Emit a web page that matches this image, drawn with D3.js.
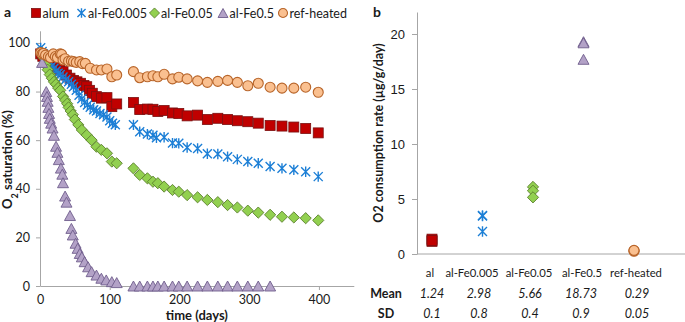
<!DOCTYPE html>
<html><head><meta charset="utf-8">
<script src="https://cdn.jsdelivr.net/npm/d3@7"></script>
<style>
html,body{margin:0;padding:0;background:#fff;}
svg{display:block;font-family:Lato,"Open Sans",sans-serif;}
</style></head>
<body>
<svg id="chart" width="685" height="322"></svg>
<script>
// ---------- DATA (panel a: [time in days, O2 saturation %]) ----------
const alum = [[1,95.5],[4,94.5],[8,93.5],[12,92.3],[16,91.5],[20,91],[24,90.2],[28,89],[33,88.2],[38,86.8],[43,85.5],[48,84.6],[53,84],[58,83.4],[63,82.5],[67,82],[71,80.5],[75,79.3],[81,77.9],[88,77.3],[96,77.5],[103,73.8],[110,74.9],
  [134,75.5],[143,72.6],[154,72.8],[162,72.7],[169,71.8],[178,72.2],[190,71.2],[199,71],[211,70],[226,70.3],[240,68.5],[255,69],[269,68.5],[283,68],[298,67.6],[313,67],[330,66],[347,65.8],[364,65.4],[381,64.8],[399,63]];
const alFe0005 = [[1,98],[3,96.5],[5,95.5],[8,94],[11,93],[14,91.5],[17,90.5],[20,89.6],[23,88.5],[26,87.5],[29,87],[33,86],[37,85],[41,84],[45,83],[48,82],[52,80.5],[56,78.5],[60,77],[64,75.5],[68,74.5],[72,73.5],[77,72.5],[81,72],[86,71],[91,70.5],[96,69.5],[100,68],[104,67],[108,66.3],
  [134,66.3],[143,63.5],[154,62.5],[162,62],[167,61],[178,61.2],[190,58.8],[199,58.7],[211,57],[226,56.6],[240,54.4],[255,54.3],[269,53.2],[283,52.1],[298,51.2],[313,50.5],[330,49.2],[347,48.4],[364,47.8],[381,47],[399,45]];
const alFe005 = [[2,96],[5,94],[8,91],[11,89],[14,87],[17,85.5],[20,84],[23,83],[26,81.5],[29,80.5],[33,78],[36,76.5],[39,75],[41,73.5],[44,72],[47,70.5],[50,68.5],[55,66.3],[60,64.2],[67,62.1],[74,60],[81,57.3],[88,56],[96,54.6],[103,51.2],[110,50.5],
  [134,48.4],[143,45.7],[154,44.3],[162,42.9],[169,42.3],[178,40.9],[190,39.5],[199,38.8],[211,37.4],[226,36.5],[240,35.4],[255,34.5],[269,33.3],[283,32.3],[298,31],[313,30.2],[330,29.3],[347,28.5],[364,28.2],[381,27.9],[399,27]];
const alFe05 = [[3,92],[9,80],[10,78],[11,76],[12,73.5],[13,71],[14,69],[16,67],[18,65],[20,62],[23,57.5],[25,55],[27,52],[30,48.5],[32,46],[33,42.5],[36,37],[38,34.5],[43,29],[45,23.7],[47,21],[51,17.6],[54,15.5],[57,13.4],[60,12],[64,10],[69,7.9],[74,5.9],[81,4.5],[88,3.2],[95,2.5],[103,1.8],[110,1.4],
  [134,0],[143,0],[154,0],[162,0],[169,0],[178,0],[190,0],[199,0],[211,0],[226,0],[240,0],[255,0],[269,0],[283,0],[298,0],[313,0],[330,0]];
const refHeated = [[1,96],[3,95.5],[5,95.7],[8,95],[12,94.4],[15,94],[19,95.5],[22,94.4],[25,94],[29,95.5],[31,95.3],[33,93],[36,93.5],[41,92.5],[45,92.6],[48,92.3],[52,92],[57,92.3],[61,91.5],[65,91.6],[72,89.6],[81,88.9],[88,88.9],[96,89.3],[103,86.1],[110,86.8],
  [134,88.2],[143,85.7],[154,86.1],[162,86.5],[169,86.1],[178,87.1],[190,85.2],[199,85.9],[211,85.2],[226,84.4],[240,83.8],[255,84.2],[269,84.6],[283,83.8],[298,82.4],[313,83.4],[330,81.8],[347,81.4],[364,81.4],[381,81.8],[399,79.7]];
const seriesNames = ["alum","al-Fe0.005","al-Fe0.05","al-Fe0.5","ref-heated"];
const xTicksA = [0,100,200,300,400];
const yTicksA = [0,20,40,60,80,100];

// ---------- DATA (panel b) ----------
const categoriesB = ["al","al-Fe0.005","al-Fe0.05","al-Fe0.5","ref-heated"];
const ratesB = [[1.15,1.35,1.22],[3.45,3.5,2.05],[6.1,5.75,5.15],[19.3,17.7,19.2],[0.25,0.3,0.33]];
const meanLabels = ["1.24","2.98","5.66","18.73","0.29"];
const sdLabels = ["0.1","0.8","0.4","0.9","0.05"];
const yTicksB = [0,5,10,15,20];

// ---------- STYLE / LAYOUT ----------
const styles = [
  {shape:"square",  fill:"#C00000", stroke:"#7A1010"},
  {shape:"asterisk",fill:"none",    stroke:"#1C7FD6"},
  {shape:"diamond", fill:"#92D050", stroke:"#5B7F2E"},
  {shape:"triangle",fill:"#B3A2C7", stroke:"#6F5E8C"},
  {shape:"circle",  fill:"#FAC090", stroke:"#B8652A"}
];
const axisColor = "#A6A6A6";
const textColor = "#1a1a1a";
const legendX = [36, 81.5, 154.5, 223, 283];

function drawMarker(g, st, size){
  const s = size;
  if(st.shape==="square"){
    g.append("rect").attr("x",-s/2).attr("y",-s/2).attr("width",s).attr("height",s)
      .attr("fill",st.fill).attr("stroke",st.stroke).attr("stroke-width",0.8);
  } else if(st.shape==="diamond"){
    const h = s*0.56;
    g.append("path").attr("d",`M0,${-h}L${h},0L0,${h}L${-h},0Z`)
      .attr("fill",st.fill).attr("stroke",st.stroke).attr("stroke-width",0.9);
  } else if(st.shape==="triangle"){
    const w = s*0.55, hh = s*0.5;
    g.append("path").attr("d",`M0,${-hh}L${w},${hh}L${-w},${hh}Z`)
      .attr("fill",st.fill).attr("stroke",st.stroke).attr("stroke-width",0.9);
  } else if(st.shape==="circle"){
    g.append("circle").attr("r",s/2).attr("fill",st.fill).attr("stroke",st.stroke).attr("stroke-width",1.1);
  } else {
    const a = s*0.45;
    g.append("path").attr("d",`M${-a},${-a}L${a},${a}M${-a},${a}L${a},${-a}M0,${-a*1.15}L0,${a*1.15}`)
      .attr("fill","none").attr("stroke",st.stroke).attr("stroke-width",1.4);
  }
}

const svg = d3.select("#chart");

// ================= PANEL A =================
const xA = d3.scaleLinear().domain([0,450]).range([40,353.8]);
const yA = d3.scaleLinear().domain([0,105]).range([286,30.8]);

const gA = svg.append("g");
const yAxA = gA.append("g").attr("transform",`translate(${xA(0)},0)`)
  .call(d3.axisLeft(yA).tickValues(yTicksA).tickSize(4).tickSizeOuter(0).tickPadding(6));
const xAxA = gA.append("g").attr("transform",`translate(0,${yA(0)})`)
  .call(d3.axisBottom(xA).tickValues(xTicksA).tickSize(4).tickSizeOuter(0).tickPadding(5));
[yAxA,xAxA].forEach(ax=>{
  ax.select(".domain").attr("stroke",axisColor);
  ax.selectAll(".tick line").attr("stroke",axisColor);
  ax.selectAll(".tick text").attr("fill",textColor).style("font-size","12.5px").style("font-family","Lato");
});
xAxA.selectAll(".tick").filter(d=>d===0).select("line").remove();

const allSeries = [alum, alFe0005, alFe005, alFe05, refHeated];
allSeries.forEach((ser,i)=>{
  const g = gA.append("g");
  ser.forEach(d=>{
    const m = g.append("g").attr("transform",`translate(${xA(d[0])},${yA(d[1])})`);
    drawMarker(m, styles[i], 10);
  });
});

// axis titles
const yt = gA.append("text").attr("transform",`translate(12,${yA(52)}) rotate(-90)`)
  .attr("text-anchor","middle").attr("fill",textColor)
  .style("font-size","13px").style("font-weight","bold");
yt.append("tspan").text("O");
yt.append("tspan").text("2").attr("baseline-shift","sub").style("font-size","9px");
yt.append("tspan").text(" saturation (%)");
gA.append("text").attr("x",xA(225)).attr("y",320).attr("text-anchor","middle")
  .attr("fill",textColor).style("font-size","13px").style("font-weight","bold").text("time (days)");

// panel letter & legend
svg.append("text").attr("x",4).attr("y",17).style("font-size","14px").style("font-weight","bold").attr("fill",textColor).text("a");
seriesNames.forEach((n,i)=>{
  const m = svg.append("g").attr("transform",`translate(${legendX[i]},13)`);
  drawMarker(m, styles[i], 9);
  svg.append("text").attr("x",legendX[i]+6.5).attr("y",17.5).attr("fill",textColor)
    .style("font-size","12.5px").text(n);
});

// ================= PANEL B =================
const xB = d3.scalePoint().domain(categoriesB).range([432,634]);
const yB = d3.scaleLinear().domain([0,22]).range([254,12]);
const labelCol = d3.scaleOrdinal().domain(categoriesB).range([430,472,529,582,636]);
const valueCol = d3.scaleOrdinal().domain(categoriesB).range([432,479,530,581,637]);

const yAxB = svg.append("g").attr("transform",`translate(417,0)`)
  .call(d3.axisLeft(yB).tickValues(yTicksB).tickSize(5).tickSizeOuter(0).tickPadding(7));
yAxB.select(".domain").attr("stroke",axisColor);
yAxB.selectAll(".tick line").attr("stroke",axisColor);
yAxB.selectAll(".tick text").attr("fill",textColor).style("font-size","13px");
svg.append("line").attr("x1",417).attr("x2",685).attr("y1",yB(0)).attr("y2",yB(0)).attr("stroke",axisColor);

categoriesB.forEach((c,i)=>{
  ratesB[i].forEach(v=>{
    const m = svg.append("g").attr("transform",`translate(${xB(c)},${yB(v)})`);
    drawMarker(m, styles[i], 10);
  });
});

svg.append("text").attr("transform",`translate(383,${yB(11)}) rotate(-90)`)
  .attr("text-anchor","middle").attr("fill",textColor)
  .style("font-size","12.5px").style("font-weight","bold").text("O2 consumption rate (µg/g/day)");
svg.append("text").attr("x",373).attr("y",17).style("font-size","14px").style("font-weight","bold").attr("fill",textColor).text("b");

// table rows
categoriesB.forEach((c,i)=>{
  svg.append("text").attr("x",labelCol(c)).attr("y",277).attr("text-anchor","middle").attr("fill",textColor)
    .style("font-size","11.3px").text(c);
  svg.append("text").attr("x",valueCol(c)).attr("y",298).attr("text-anchor","middle").attr("fill",textColor)
    .style("font-size","12.5px").style("font-style","italic").text(meanLabels[i]);
  svg.append("text").attr("x",valueCol(c)).attr("y",318).attr("text-anchor","middle").attr("fill",textColor)
    .style("font-size","12.5px").style("font-style","italic").text(sdLabels[i]);
});
svg.append("text").attr("x",386).attr("y",298).attr("text-anchor","middle").attr("fill",textColor)
  .style("font-size","12.5px").style("font-weight","bold").text("Mean");
svg.append("text").attr("x",386).attr("y",318).attr("text-anchor","middle").attr("fill",textColor)
  .style("font-size","12.5px").style("font-weight","bold").text("SD");
</script>
</body></html>
